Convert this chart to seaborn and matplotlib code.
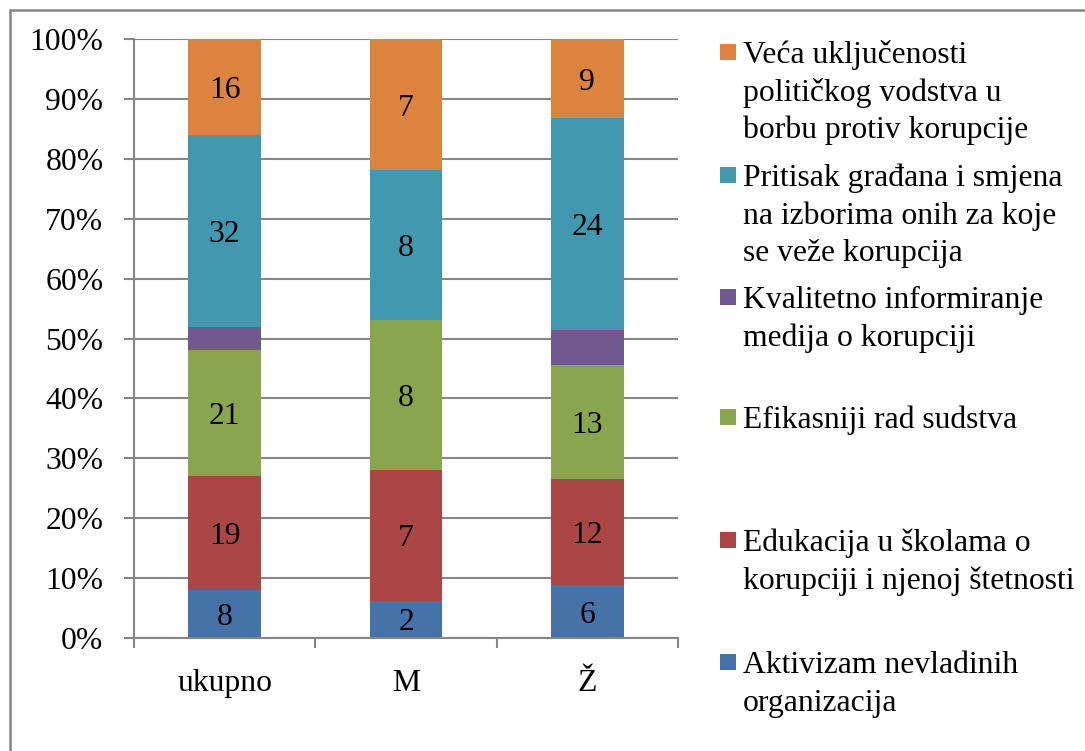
import matplotlib
matplotlib.use("Agg")
import matplotlib.pyplot as plt
import numpy as np
import pandas as pd
import seaborn as sns
from matplotlib.lines import Line2D
from matplotlib.patches import Rectangle
from matplotlib.ticker import PercentFormatter, FixedLocator, NullFormatter

# Groups on the x axis
groups = ["ukupno", "M", "Ž"]

# Counts per answer, listed bottom-to-top of each stack
aktivizam = [8, 2, 6]
edukacija = [19, 7, 12]
efikasniji = [21, 8, 13]
kvalitetno = [4, 0, 4]
pritisak = [32, 8, 24]
veca = [16, 7, 9]

# Legend captions (top-to-bottom), already wrapped
labels_top_down = [
    "Veća uključenosti\npolitičkog vodstva u\nborbu protiv korupcije",
    "Pritisak građana i smjena\nna izborima onih za koje\nse veže korupcija",
    "Kvalitetno informiranje\nmedija o korupciji",
    "Efikasniji rad sudstva",
    "Edukacija u školama o\nkorupciji i njenoj štetnosti",
    "Aktivizam nevladinih\norganizacija",
]
values_top_down = [veca, pritisak, kvalitetno, efikasniji, edukacija, aktivizam]
colors_top_down = ["#DB843D", "#4198AF", "#71588F", "#89A54E", "#AA4643", "#4572A7"]
show_value = [True, True, False, True, True, True]

rows = []
for lab, vals in zip(labels_top_down, values_top_down):
    for g, v in zip(groups, vals):
        rows.append({"group": g, "series": lab, "count": v})
df = pd.DataFrame(rows)
df["group"] = pd.Categorical(df["group"], categories=groups, ordered=True)

sns.set_theme(style="white")
plt.rcParams["font.family"] = ["Liberation Serif", "DejaVu Serif"]
FS = 22.8
plt.rcParams["font.size"] = FS

W, H = 1085, 751
fig = plt.figure(figsize=(W / 100, H / 100), dpi=100)
ax = fig.add_axes([134 / W, 1 - 638 / H, (678 - 134) / W, (638 - 39) / H])

grey = "#868686"
sns.histplot(
    data=df, x="group", hue="series", weights="count",
    hue_order=labels_top_down, palette=colors_top_down,
    multiple="fill", discrete=True, shrink=0.4,
    alpha=1, linewidth=0, edgecolor="none", legend=False, ax=ax,
)

ax.set_xlim(-0.5, 2.5)
ax.set_ylim(0, 1)
ax.set_xlabel("")
ax.set_ylabel("")

# y axis: percentages with gridlines
ax.yaxis.set_major_locator(FixedLocator(np.linspace(0, 1, 11)))
ax.yaxis.set_major_formatter(PercentFormatter(1.0, decimals=0))
ax.yaxis.grid(True, color=grey, linewidth=1.5)
ax.set_axisbelow(True)
ax.tick_params(axis="y", which="major", direction="out", length=7, width=1.5,
               color=grey, pad=15, labelsize=FS, labelcolor="black", left=True)

# x axis: labels at the centres, tick marks at the boundaries
ax.xaxis.set_major_locator(FixedLocator([0, 1, 2]))
ax.set_xticklabels(groups)
ax.xaxis.set_minor_locator(FixedLocator([-0.5, 0.5, 1.5, 2.5]))
ax.xaxis.set_minor_formatter(NullFormatter())
ax.tick_params(axis="x", which="major", length=0, pad=22, labelsize=FS, labelcolor="black")
ax.tick_params(axis="x", which="minor", direction="out", length=7, width=1.5,
               color=grey, bottom=True)

for side in ["top", "right"]:
    ax.spines[side].set_visible(False)
for side in ["left", "bottom"]:
    ax.spines[side].set_color(grey)
    ax.spines[side].set_linewidth(1.5)

# Value labels in the middle of each segment
vals_bottom_up = values_top_down[::-1]
show_bottom_up = show_value[::-1]
for i in range(len(groups)):
    total = sum(v[i] for v in vals_bottom_up)
    base = 0.0
    for vals, show in zip(vals_bottom_up, show_bottom_up):
        frac = vals[i] / total
        if show and vals[i] > 0:
            ax.text(i, base + frac / 2, str(vals[i]), ha="center",
                    va="center_baseline", fontsize=FS, color="black")
        base += frac

# Legend drawn as square keys with wrapped captions
first_line_y = [52, 175, 297, 417, 540, 662]
line_step = 37.5
for lab, col, y0 in zip(labels_top_down, colors_top_down, first_line_y):
    fig.add_artist(Rectangle((720 / W, 1 - (y0 + 8) / H), 16 / W, 16 / H,
                             transform=fig.transFigure, facecolor=col,
                             edgecolor="none"))
    for k, line in enumerate(lab.split("\n")):
        fig.text(743 / W, 1 - (y0 + k * line_step) / H, line,
                 ha="left", va="center_baseline", fontsize=FS, color="black")

# Chart border (left and top edges visible)
fig.add_artist(Line2D([10 / W, 10 / W], [0, 1 - 10 / H], transform=fig.transFigure,
                      color=grey, linewidth=1.8))
fig.add_artist(Line2D([10 / W, 1], [1 - 10 / H, 1 - 10 / H], transform=fig.transFigure,
                      color=grey, linewidth=1.8))

fig.savefig("out.png", dpi=100, facecolor="white")
